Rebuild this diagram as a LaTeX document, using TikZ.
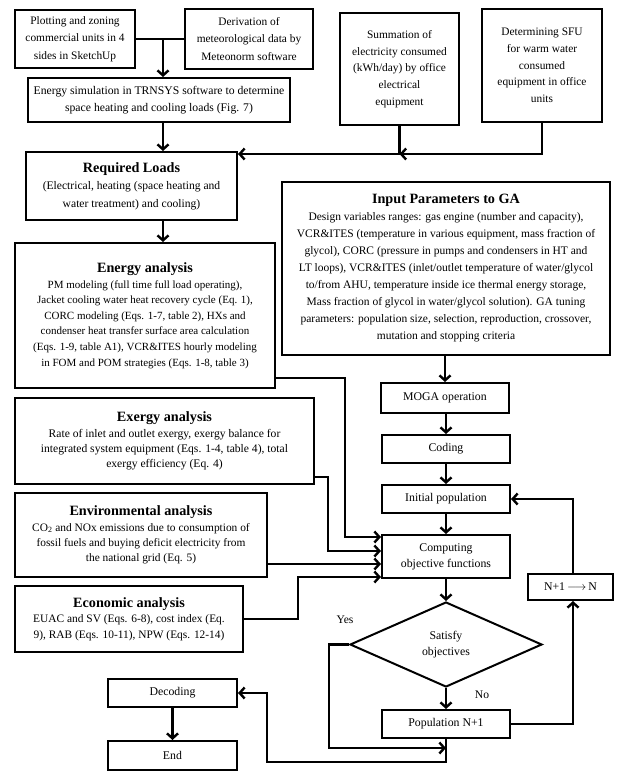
\documentclass[tikz,border=0pt]{standalone}
\usepackage{fontspec}
\setmainfont{Liberation Serif}
\usetikzlibrary{arrows.meta,shapes.geometric}
\newcommand{\ttlfont}{\fontsize{14.2}{16}\selectfont\bfseries}
\begin{document}
\begin{tikzpicture}[x=1pt,y=-1pt,
  box/.style={draw, line width=2pt, inner sep=0pt, align=center,
    font=\fontsize{11.4}{15.6}\selectfont},
  sbox/.style={box, font=\fontsize{11.4}{17.5}\selectfont},
  conn/.style={line width=2.4pt},
  arr/.style={conn, -{Straight Barb[length=5pt,width=11pt]}},
  lbl/.style={font=\fontsize{11.6}{13}\selectfont}]
\useasboundingbox (0,0) rectangle (618,772);
% top row
\node[sbox, minimum width=120, minimum height=58] (plot) at (75,39)
  {Plotting and zoning\\commercial units in 4\\sides in SketchUp};
\node[sbox, minimum width=128, minimum height=60] (deriv) at (249,39)
  {Derivation of\\meteorological data by\\Meteonorm software};
\node[sbox, minimum width=262, minimum height=44, font=\fontsize{11.7}{17.5}\selectfont] (trnsys) at (159,100)
  {Energy simulation in TRNSYS software to determine\\space heating and cooling loads (Fig. 7)};
\node[sbox, minimum width=119, minimum height=112, font=\fontsize{11.4}{16.7}\selectfont] (summ) at (399.5,69)
  {Summation of\\electricity consumed\\(kWh/day) by office\\electrical\\equipment};
\node[sbox, minimum width=120, minimum height=113, font=\fontsize{11.4}{16.7}\selectfont] (sfu) at (542,65.5)
  {Determining SFU\\for warm water\\consumed\\equipment in office\\units};
% loads
\node[sbox, minimum width=211, minimum height=68, font=\fontsize{11.6}{17.5}\selectfont] (req) at (131.5,186)
  {{\ttlfont Required Loads}\\(Electrical, heating (space heating and\\water treatment) and cooling)};
% analyses
\node[box, minimum width=260, minimum height=145, font=\fontsize{11.0}{15.6}\selectfont] (energy) at (145,315.5)
  {{\ttlfont Energy analysis}\\PM modeling (full time full load operating),\\Jacket cooling water heat recovery cycle (Eq. 1),\\CORC modeling (Eqs. 1-7, table 2), HXs and\\condenser heat transfer surface area calculation\\(Eqs. 1-9, table A1), VCR\&ITES hourly modeling\\in FOM and POM strategies (Eqs. 1-8, table 3)};
\node[box, minimum width=328, minimum height=173, font=\fontsize{11.5}{17}\selectfont] (input) at (446,268.5)
  {{\ttlfont Input Parameters to GA}\\Design variables ranges: gas engine (number and capacity),\\VCR\&ITES (temperature in various equipment, mass fraction of\\glycol), CORC (pressure in pumps and condensers in HT and\\LT loops), VCR\&ITES (inlet/outlet temperature of water/glycol\\to/from AHU, temperature inside ice thermal energy storage,\\Mass fraction of glycol in water/glycol solution). GA tuning\\parameters: population size, selection, reproduction, crossover,\\mutation and stopping criteria};
\node[box, minimum width=299, minimum height=86, font=\fontsize{11.6}{15.3}\selectfont] (exergy) at (164.5,441)
  {{\ttlfont Exergy analysis}\\Rate of inlet and outlet exergy, exergy balance for\\integrated system equipment (Eqs. 1-4, table 4), total\\exergy efficiency (Eq. 4)};
\node[box, minimum width=252, minimum height=84, font=\fontsize{11.4}{15.3}\selectfont] (env) at (141,535)
  {{\ttlfont Environmental analysis}\\CO\textsubscript{2} and NOx emissions due to consumption of\\fossil fuels and buying deficit electricity from\\the national grid (Eq. 5)};
\node[box, minimum width=228, minimum height=66, font=\fontsize{11.4}{15.3}\selectfont] (econ) at (129,619)
  {{\ttlfont Economic analysis}\\EUAC and SV (Eqs. 6-8), cost index (Eq.\\9), RAB (Eqs. 10-11), NPW (Eqs. 12-14)};
% GA chain
\node[sbox, minimum width=128, minimum height=30, font=\fontsize{11.8}{16}\selectfont] (moga) at (445,398) {MOGA operation};
\node[sbox, minimum width=128, minimum height=28, font=\fontsize{11.8}{16}\selectfont] (coding) at (446,449) {Coding};
\node[sbox, minimum width=128, minimum height=28, font=\fontsize{11.8}{16}\selectfont] (init) at (446,499) {Initial population};
\node[sbox, minimum width=128, minimum height=43, font=\fontsize{11.8}{16}\selectfont] (comp) at (446,556.5) {Computing\\objective functions};
\node[draw, line width=2pt, diamond, aspect=2.26, minimum width=192, minimum height=85, inner sep=0pt, align=center, font=\fontsize{11.8}{16}\selectfont] (dia) at (446,644.5) {Satisfy\\objectives};
\node[sbox, minimum width=128, minimum height=28, font=\fontsize{11.8}{16}\selectfont] (pop) at (446,724) {Population N+1};
\node[sbox, minimum width=85, minimum height=26, font=\fontsize{11.8}{16}\selectfont] (nn) at (570.5,587) {N+1\,$\longrightarrow$\,N};
\node[sbox, minimum width=129, minimum height=28, font=\fontsize{11.8}{16}\selectfont] (dec) at (172.5,693) {Decoding};
\node[sbox, minimum width=129, minimum height=29, font=\fontsize{11.8}{16}\selectfont] (end) at (172.5,755.5) {End};
\node[lbl] (yes) at (345,620) {Yes};
\node[lbl] (no) at (482,695) {No};
% connectors top
\coordinate (j1) at (163,39);
\draw[conn] (plot.east) -- (deriv.west);
\draw[arr] (j1) -- (j1 |- trnsys.north);
\draw[arr] (j1 |- trnsys.south) -- (j1 |- req.north);
\coordinate (h1) at (summ.south |- 0,154);
\draw[conn] (summ.south) -- (h1);
\draw[arr] (sfu.south) |- (h1);
\draw[arr] (h1) -- (req.east |- h1);
\draw[arr] (j1 |- req.south) -- (j1 |- energy.north);
% GA flow
\draw[arr] (input.south -| moga.north) -- (moga.north);
\draw[arr] (moga.south -| coding.north) -- (coding.north);
\draw[arr] (coding.south) -- (init.north);
\draw[arr] (init.south) -- (comp.north);
\draw[arr] (comp.south) -- (dia.north);
\draw[arr] (dia.south) -- (pop.north);
\coordinate (r1) at (573,724);
\draw[arr] (pop.east) -- (r1) -- (r1 |- nn.south);
\draw[arr] (r1 |- nn.north) -- (r1 |- init.east) -- (init.east);
% analyses to computing
\coordinate (v1) at (345,378);
\draw[arr] (energy.east |- v1) -- (v1) -- (v1 |- 0,537) -- (comp.west |- 0,537);
\coordinate (v2) at (328,477);
\draw[arr] (exergy.east |- v2) -- (v2) -- (v2 |- 0,551) -- (comp.west |- 0,551);
\draw[arr] (env.east |- 0,564) -- (comp.west |- 0,564);
\coordinate (v3) at (298,619);
\draw[arr] (econ.east |- v3) -- (v3) -- (v3 |- 0,577) -- (comp.west |- 0,577);
% yes / decoding
\coordinate (y1) at (329,748);
\draw[arr] (dia.west) -| (y1) -- (pop.south |- y1);
\coordinate (d1) at (267,762);
\draw[arr] (pop.south) -- (pop.south |- d1) -- (d1) -- (d1 |- dec.east) -- (dec.east);
\draw[arr] (dec.south) -- (end.north);
\end{tikzpicture}
\end{document}
